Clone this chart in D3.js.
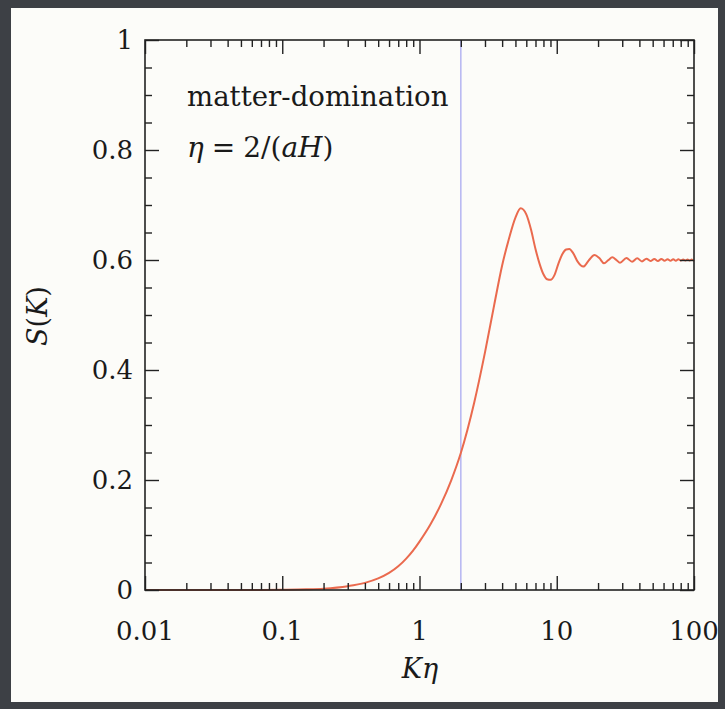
<!DOCTYPE html>
<html>
<head>
<meta charset="utf-8">
<script src="https://cdn.jsdelivr.net/npm/d3@7"></script>
<style>
  html, body { margin: 0; padding: 0; background: #3d4045; }
  svg { display: block; }
</style>
</head>
<body>
<svg id="chart" width="725" height="709"></svg>
<script>
// ---- data ----
const kEta = [0.01, 0.03, 0.06, 0.1, 0.15, 0.2, 0.3, 0.4, 0.5, 0.6, 0.7, 0.8, 0.9, 1.0, 1.2, 1.44, 1.7, 2.0, 2.5, 3.0, 3.5, 4.0, 4.5, 5.0, 5.46, 6.0, 6.5, 7.0, 7.5, 8.0, 8.5, 9.03, 9.6, 10.3, 11.0, 11.7, 12.35, 13.2, 14.2, 15.6, 17.2, 18.8, 20.5, 22.1, 23.8, 25.4, 27.2, 28.9, 32.2, 35.4, 38.6, 41.8, 45, 48.2, 51.4, 54.6, 57.8, 61, 64.2, 67.4, 70.6, 73.8, 77, 80.2, 83.4, 86.6, 89.8, 93, 96.2, 99.4, 100];
const sK = [0, 0, 0, 0.0004, 0.0012, 0.0025, 0.007, 0.013, 0.021, 0.031, 0.043, 0.057, 0.072, 0.088, 0.119, 0.157, 0.199, 0.249, 0.34, 0.432, 0.518, 0.59, 0.64, 0.677, 0.694, 0.683, 0.655, 0.62, 0.593, 0.574, 0.565, 0.564, 0.572, 0.594, 0.611, 0.619, 0.62, 0.612, 0.597, 0.588, 0.6, 0.609, 0.603, 0.594, 0.6, 0.605, 0.6, 0.595, 0.6035, 0.597, 0.603, 0.5975, 0.6025, 0.598, 0.602, 0.598, 0.602, 0.5985, 0.6015, 0.5985, 0.6015, 0.5988, 0.6012, 0.599, 0.601, 0.599, 0.601, 0.5992, 0.6008, 0.5993, 0.6];
const xTickValues = [0.01, 0.1, 1, 10, 100];
const xTickLabels = ["0.01", "0.1", "1", "10", "100"];
const yTickValues = [0, 0.2, 0.4, 0.6, 0.8, 1];
const yTickLabels = ["0", "0.2", "0.4", "0.6", "0.8", "1"];
const markerK = [2];

// ---- layout ----
const svg = d3.select("#chart");
const m = { left: 145, right: 694, top: 40, bottom: 590 };

// panel
svg.append("rect").attr("x", 11).attr("y", 8).attr("width", 707).attr("height", 694)
  .attr("fill", "#fcfcf9");

const x = d3.scaleLog().domain([0.01, 100]).range([m.left, m.right]);
const y = d3.scaleLinear().domain([0, 1]).range([m.bottom, m.top]);

const g = svg.append("g");

// vertical marker line
g.selectAll("line.marker").data(markerK).enter().append("line")
  .attr("class", "marker")
  .attr("x1", d => x(d)).attr("x2", d => x(d))
  .attr("y1", m.top).attr("y2", m.bottom)
  .attr("stroke", "#b9b9f2").attr("stroke-width", 1.6);

// curve
const pts = kEta.map((k, i) => [k, sK[i]]);
const line = d3.line().x(d => x(d[0])).y(d => y(d[1])).curve(d3.curveMonotoneX);
g.append("path").datum(pts).attr("d", line)
  .attr("fill", "none").attr("stroke", "#ea6a4e").attr("stroke-width", 2);

// minor/major ticks, inward on all 4 sides
const tickColor = "#222";
const xMinor = [];
for (let e = -2; e < 2; e++) for (let k = 2; k <= 9; k++) xMinor.push(k * Math.pow(10, e));
const yMinor = d3.range(0, 21).map(i => i * 0.05).filter(v => Math.abs(v * 5 - Math.round(v * 5)) > 1e-6);

const axB = d3.axisBottom(x).tickValues(xTickValues).tickSize(-14).tickFormat("");
const axBm = d3.axisBottom(x).tickValues(xMinor).tickSize(-7).tickFormat("");
const axT = d3.axisTop(x).tickValues(xTickValues).tickSize(-14).tickFormat("");
const axTm = d3.axisTop(x).tickValues(xMinor).tickSize(-7).tickFormat("");
const axL = d3.axisLeft(y).tickValues(yTickValues).tickSize(-14).tickFormat("");
const axLm = d3.axisLeft(y).tickValues(yMinor).tickSize(-7).tickFormat("");
const axR = d3.axisRight(y).tickValues(yTickValues).tickSize(-14).tickFormat("");
const axRm = d3.axisRight(y).tickValues(yMinor).tickSize(-7).tickFormat("");

function draw(ax, tx, ty) {
  const a = g.append("g").attr("transform", `translate(${tx},${ty})`).call(ax);
  a.select(".domain").remove();
  a.selectAll("line").attr("stroke", tickColor).attr("stroke-width", 1.4);
}
draw(axB, 0, m.bottom); draw(axBm, 0, m.bottom);
draw(axT, 0, m.top); draw(axTm, 0, m.top);
draw(axL, m.left, 0); draw(axLm, m.left, 0);
draw(axR, m.right, 0); draw(axRm, m.right, 0);

// frame
g.append("rect").attr("x", m.left).attr("y", m.top)
  .attr("width", m.right - m.left).attr("height", m.bottom - m.top)
  .attr("fill", "none").attr("stroke", "#222").attr("stroke-width", 1.6);

const font = "'DejaVu Serif', serif";
const txtColor = "#1a1a1a";

// tick labels
g.selectAll("text.xl").data(xTickValues).enter().append("text")
  .attr("x", d => x(d)).attr("y", 640)
  .attr("text-anchor", "middle").attr("font-family", font).attr("font-size", 26)
  .attr("fill", txtColor).text((d, i) => xTickLabels[i]);
g.selectAll("text.yl").data(yTickValues).enter().append("text")
  .attr("x", 133).attr("y", d => y(d) + 9)
  .attr("text-anchor", "end").attr("font-family", font).attr("font-size", 26)
  .attr("fill", txtColor).text((d, i) => yTickLabels[i]);

// axis titles
g.append("text").attr("x", 420).attr("y", 678).attr("text-anchor", "middle")
  .attr("font-family", font).attr("font-size", 27).attr("fill", txtColor)
  .attr("font-style", "italic").text("Kη");
const yt = g.append("text").attr("transform", "translate(47,316) rotate(-90)")
  .attr("text-anchor", "middle").attr("font-family", font).attr("font-size", 27).attr("fill", txtColor);
yt.append("tspan").attr("font-style", "italic").text("S");
yt.append("tspan").text("(");
yt.append("tspan").attr("font-style", "italic").text("K");
yt.append("tspan").text(")");

// annotations
g.append("text").attr("x", 187).attr("y", 106).attr("font-family", font).attr("font-size", 27.6)
  .attr("fill", txtColor).text("matter-domination");
const eq = g.append("text").attr("x", 187).attr("y", 157).attr("font-family", font)
  .attr("font-size", 28).attr("fill", txtColor);
eq.append("tspan").attr("font-style", "italic").text("η");
eq.append("tspan").attr("dx", 8).text("=");
eq.append("tspan").attr("dx", 8).text("2/(");
eq.append("tspan").attr("font-style", "italic").text("aH");
eq.append("tspan").text(")");
</script>
</body>
</html>
